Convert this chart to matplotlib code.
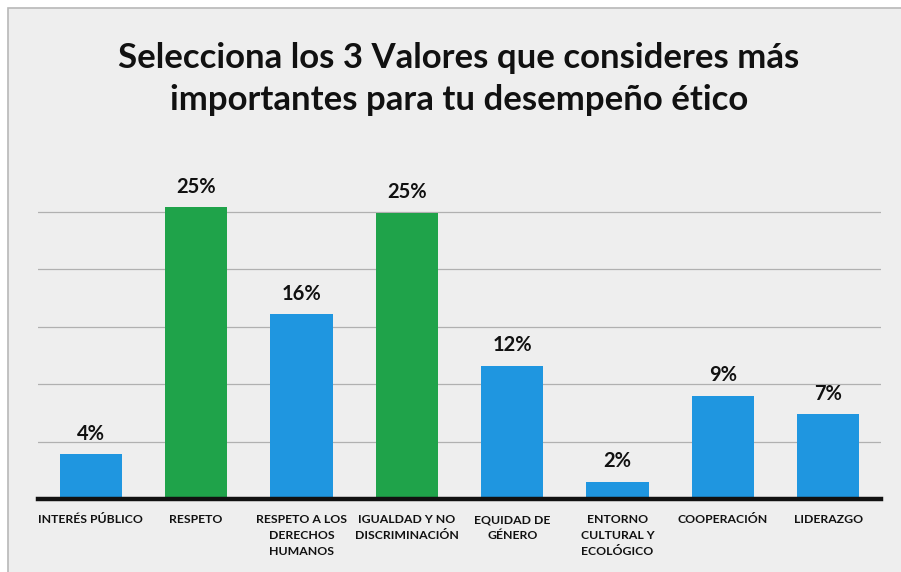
import matplotlib
matplotlib.use("Agg")
import matplotlib.pyplot as plt
from matplotlib.patches import Rectangle

# Data
categorias = ["INTERÉS PÚBLICO", "RESPETO", "RESPETO A LOS\nDERECHOS\nHUMANOS",
              "IGUALDAD Y NO\nDISCRIMINACIÓN", "EQUIDAD DE\nGÉNERO",
              "ENTORNO\nCULTURAL Y\nECOLÓGICO", "COOPERACIÓN", "LIDERAZGO"]
valores = [3.9, 25.4, 16.1, 24.9, 11.6, 1.5, 9.0, 7.4]
etiquetas = ["4%", "25%", "16%", "25%", "12%", "2%", "9%", "7%"]
destacado = [False, True, False, True, False, False, False, False]

azul = "#1f96e0"
verde = "#1fa34a"
fondo = "#eeeeee"

plt.rcParams['font.family'] = ['Lato', 'DejaVu Sans']

fig = plt.figure(figsize=(9.01, 5.72), dpi=100)
fig.patch.set_facecolor("white")
# panel de fondo gris con borde
fig.patches.append(Rectangle((8/901, -0.01), 1.1, 1 - 8/572 + 0.01, transform=fig.transFigure,
                             facecolor=fondo, edgecolor="#b8b8b8", lw=1.2, zorder=-10))

ax = fig.add_axes([38/901, 1 - 499/572, (881 - 38)/901, 345/572])
ax.set_facecolor("none")

x = range(len(categorias))
colores = [verde if d else azul for d in destacado]
ax.bar(x, valores, width=0.59, color=colores, zorder=2)

# etiquetas de porcentaje
for i, (v, t) in enumerate(zip(valores, etiquetas)):
    ax.text(i, v + 0.9, t, ha="center", va="bottom", fontsize=14.5, fontweight="bold", color="#111111")

ax.set_xlim(-0.5, len(categorias) - 0.5)
ax.set_ylim(0, 30)
ax.set_yticks([5, 10, 15, 20, 25])
ax.yaxis.grid(True, color="#b0b0b0", lw=0.9, zorder=0)
ax.tick_params(axis="y", left=False, labelleft=False)
ax.tick_params(axis="x", length=0, pad=11)
ax.set_xticks(list(x))
ax.set_xticklabels(categorias, fontsize=8.8, fontweight="bold", color="#111111", linespacing=1.55)
for s in ["top", "right", "left"]:
    ax.spines[s].set_visible(False)
ax.spines["bottom"].set_linewidth(3.2)
ax.spines["bottom"].set_color("#111111")
ax.spines["bottom"].set_zorder(3)

fig.text(459/901, 1 - 79/572, "Selecciona los 3 Valores que consideres más\nimportantes para tu desempeño ético",
         ha="center", va="center", fontsize=25, fontweight="bold", color="#111111", linespacing=1.35)

fig.savefig("out.png", dpi=100, facecolor=fig.get_facecolor())
